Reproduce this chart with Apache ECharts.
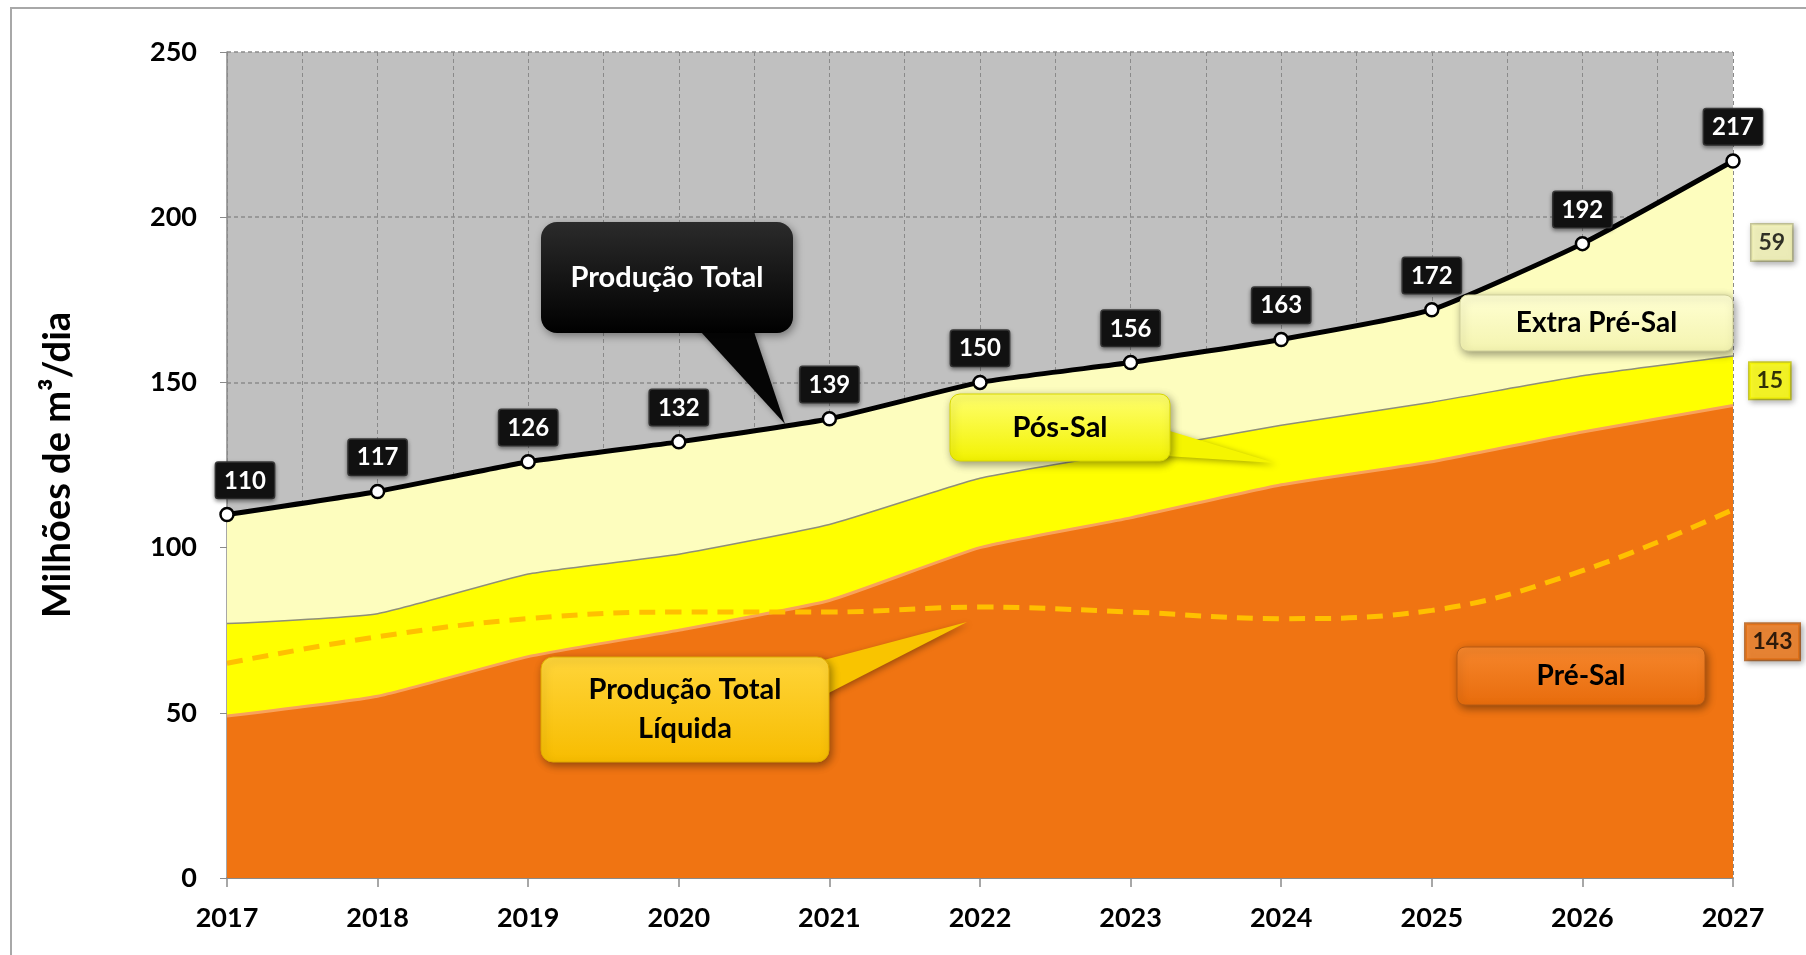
<!DOCTYPE html>
<html>
<head>
<meta charset="utf-8">
<script src="https://cdn.jsdelivr.net/npm/echarts@6/dist/echarts.min.js"></script>
<style>
html,body{margin:0;padding:0;background:#fff;}
#chart{width:1806px;height:955px;}
</style>
</head>
<body>
<div id="chart"></div>
<script>
// ---- data ----
const years = ['2017','2018','2019','2020','2021','2022','2023','2024','2025','2026','2027'];
const preSal = [49, 55, 67, 75, 84, 100, 109, 119, 126, 135, 143];
const posSal = [28, 25, 25, 23, 23, 21, 20, 18, 18, 17, 15];
const extraPreSal = [33, 37, 34, 34, 32, 29, 27, 26, 28, 40, 59];
const producaoTotal = [110, 117, 126, 132, 139, 150, 156, 163, 172, 192, 217];
const producaoTotalLiquida = [65, 73, 78.5, 80.5, 80.5, 82, 80.5, 78.5, 81, 93, 111.5];
const yMin = 0, yMax = 250, yStep = 50;
const yAxisTitle = 'Milhões de m³/dia';

const FONT = 'Lato, "Open Sans", sans-serif';
const last = years.length - 1;

const chart = echarts.init(document.getElementById('chart'));

function grad(c1, c2) {
  return new echarts.graphic.LinearGradient(0, 0, 0, 1, [{offset: 0, color: c1}, {offset: 1, color: c2}]);
}

function callout(box, r, fill, stroke, tail, tailFill, lines, textColor, fontSize, lineH) {
  const els = [];
  if (tail) {
    els.push({type: 'polygon', z: 20, silent: true, shape: {points: tail},
      style: {fill: tailFill, shadowBlur: 6, shadowColor: 'rgba(0,0,0,0.35)', shadowOffsetX: 2, shadowOffsetY: 2}});
  }
  els.push({type: 'rect', z: 21, silent: true,
    shape: {x: box[0], y: box[1], width: box[2], height: box[3], r: r},
    style: {fill: fill, stroke: stroke, lineWidth: stroke ? 1 : 0,
      shadowBlur: 8, shadowColor: 'rgba(0,0,0,0.4)', shadowOffsetX: 2, shadowOffsetY: 3}});
  const cx = box[0] + box[2] / 2;
  const cy = box[1] + box[3] / 2;
  const n = lines.length;
  lines.forEach((t, i) => {
    els.push({type: 'text', z: 22, silent: true, x: cx, y: cy + (i - (n - 1) / 2) * lineH,
      style: {text: t, fill: textColor, font: 'bold ' + fontSize + 'px ' + FONT,
        align: 'center', verticalAlign: 'middle', textAlign: 'center', textVerticalAlign: 'middle'}});
  });
  return els;
}

const sideLabel = (bg, border, color) => ({
  show: true, position: 'right', distance: 12,
  color: color, fontFamily: FONT, fontWeight: 'bold', fontSize: 23,
  backgroundColor: bg, borderColor: border, borderWidth: 1.5,
  padding: [7, 7, 6, 7], shadowBlur: 6, shadowColor: 'rgba(0,0,0,0.35)', shadowOffsetX: 2, shadowOffsetY: 2
});

const option = {
  animation: false,
  backgroundColor: '#ffffff',
  grid: {left: 227, right: 73, top: 52, bottom: 77, show: true, backgroundColor: '#c0c0c0', borderWidth: 0},
  xAxis: [{
    type: 'category', data: years, boundaryGap: false,
    axisLine: {show: true, lineStyle: {color: '#8a8a8a', width: 2}},
    axisTick: {show: true, length: 9, lineStyle: {color: '#8a8a8a', width: 1.5}},
    axisLabel: {color: '#000', fontFamily: FONT, fontWeight: 'bold', fontSize: 27, margin: 27},
    splitLine: {show: false}
  }, {
    type: 'value', min: 0, max: 10, interval: 0.5, position: 'bottom',
    axisLine: {show: false}, axisTick: {show: false}, axisLabel: {show: false},
    splitLine: {show: true, lineStyle: {color: '#8a8a8a', type: [4, 3], width: 1}}
  }],
  yAxis: {
    type: 'value', min: yMin, max: yMax, interval: yStep,
    name: yAxisTitle, nameLocation: 'middle', nameGap: 150,
    nameTextStyle: {color: '#000', fontFamily: FONT, fontWeight: 'bold', fontSize: 38},
    axisLine: {show: true, lineStyle: {color: '#8a8a8a', width: 1.5}},
    axisTick: {show: true, length: 7, lineStyle: {color: '#8a8a8a'}},
    axisLabel: {color: '#000', fontFamily: FONT, fontWeight: 'bold', fontSize: 27, margin: 30},
    splitLine: {show: true, lineStyle: {color: '#8a8a8a', type: [4, 3], width: 1.5}}
  },
  series: [
    {
      name: 'Pré-Sal', type: 'line', stack: 'prod', data: preSal, smooth: 0.15, symbol: 'none', z: 2,
      lineStyle: {color: '#f8a25c', width: 3},
      areaStyle: {color: '#f07412', opacity: 1}
    },
    {
      name: 'Pós-Sal', type: 'line', stack: 'prod', data: posSal, smooth: 0.15, symbol: 'none', z: 2,
      lineStyle: {color: '#8f8f78', width: 1.5},
      areaStyle: {color: '#ffff00', opacity: 1}
    },
    {
      name: 'Extra Pré-Sal', type: 'line', stack: 'prod', data: extraPreSal, smooth: 0.15, symbol: 'none', z: 2,
      lineStyle: {width: 0},
      areaStyle: {color: '#fdfdbe', opacity: 1}
    },
    {
      name: 'Produção Total Líquida', type: 'line', data: producaoTotalLiquida, smooth: 0.4, symbol: 'none', z: 3,
      lineStyle: {color: '#ffc000', width: 5, type: [16, 10]}
    },
    {
      name: 'Produção Total', type: 'line', z: 4, smooth: 0.15,
      data: producaoTotal.map((v, i) => i === 0 ? {value: v, label: {offset: [18, 0]}} : v),
      symbol: 'circle', symbolSize: 13,
      itemStyle: {color: '#ffffff', borderColor: '#000', borderWidth: 2.5},
      lineStyle: {color: '#000', width: 5},
      label: {
        show: true, position: 'top', distance: 9,
        color: '#fff', fontFamily: FONT, fontWeight: 'bold', fontSize: 24,
        backgroundColor: '#111', borderColor: '#3a3a3a', borderWidth: 1.5, borderRadius: 2,
        padding: [6, 8, 5, 8], shadowBlur: 4, shadowColor: 'rgba(0,0,0,0.4)', shadowOffsetY: 2
      }
    },
    {
      name: 'rotulos', type: 'scatter', z: 5, symbolSize: 1,
      itemStyle: {color: 'rgba(0,0,0,0)'},
      data: [
        {value: [years[last], preSal[last] + posSal[last] + extraPreSal[last] / 2],
          label: Object.assign(sideLabel('#f8f8b6', '#b9b985', '#000'), {formatter: String(extraPreSal[last]), offset: [6, -16]})},
        {value: [years[last], preSal[last] + posSal[last] / 2],
          label: Object.assign(sideLabel('#ffff00', '#c4c400', '#000'), {formatter: String(posSal[last]), offset: [4, 0]})},
        {value: [years[last], preSal[last] / 2],
          label: Object.assign(sideLabel('#f07412', '#b55a12', '#000'), {formatter: String(preSal[last])})}
      ]
    }
  ],
  graphic: [
    {type: 'rect', z: 30, silent: true, shape: {x: 11, y: 8, width: 1900, height: 1000},
      style: {fill: 'none', stroke: '#a8a8a8', lineWidth: 2}}
  ]
    .concat(callout([541, 222, 252, 111], 16, grad('#2b2b2b', '#000000'), null,
      [[690, 320], [750, 320], [785, 424]], '#050505', ['Produção Total'], '#ffffff', 29, 0))
    .concat(callout([950, 394, 220, 67], 10, grad('#ffff70', '#f2f200'), '#d8d800',
      [[1150, 425], [1150, 455], [1275, 463]], '#f5f500', ['Pós-Sal'], '#000', 29, 0))
    .concat(callout([541, 657, 288, 105], 12, grad('#ffd53a', '#f7bc00'), '#e0a800',
      [[805, 665], [815, 700], [967, 622]], '#f9c400', ['Produção Total', 'Líquida'], '#000', 29, 39))
    .concat(callout([1460, 295, 273, 56], 8, grad('#ffffd2', '#f4f4b0'), '#cfcf9a',
      null, null, ['Extra Pré-Sal'], '#000', 28, 0))
    .concat(callout([1457, 647, 248, 58], 8, grad('#f6862c', '#e86c0c'), '#b85a12',
      null, null, ['Pré-Sal'], '#000', 28, 0))
};

chart.setOption(option);
</script>
</body>
</html>
